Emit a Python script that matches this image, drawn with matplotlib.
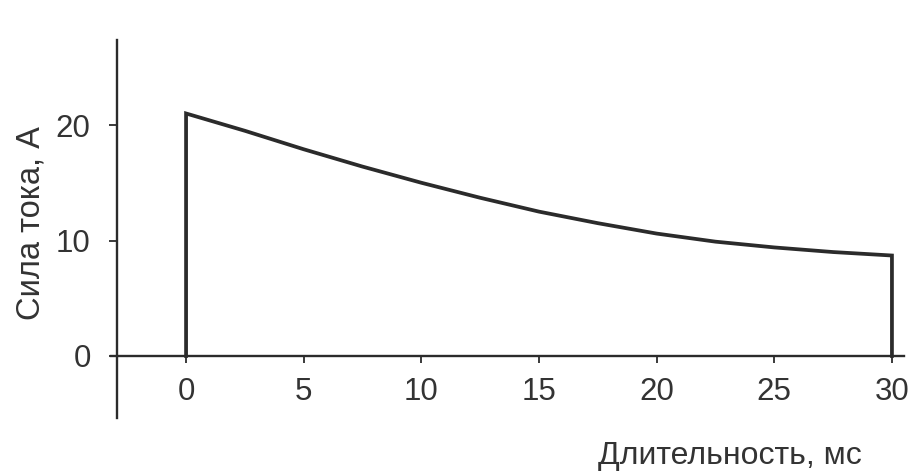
import matplotlib
matplotlib.use("Agg")
import matplotlib.pyplot as plt

# Data (time in ms, current in A)
time_ms = [0, 2.5, 5, 7.5, 10, 12.5, 15, 17.5, 20, 22.5, 25, 27.5, 30]
current_a = [21.0, 19.5, 17.9, 16.4, 15.0, 13.7, 12.5, 11.5, 10.6, 9.9, 9.4, 9.0, 8.7]
x_ticks = [0, 5, 10, 15, 20, 25, 30]
y_ticks = [0, 10, 20]
x_label = "Длительность, мс"
y_label = "Сила тока, А"

plt.rcParams['font.family'] = ['Liberation Sans', 'DejaVu Sans']
ink = '#2b2b2b'
txt = '#333333'

fig = plt.figure(figsize=(9.18, 4.73), dpi=100)
ax = fig.add_axes([0.1181, 0.1131, 0.8689, 0.8057])
ax.set_xlim(-3.3, 30.6)
ax.set_ylim(-5.5, 27.5)

# pulse shape: rise at t=0, decay, drop at t=30
xs = [time_ms[0]] + time_ms + [time_ms[-1]]
ys = [0] + current_a + [0]
ax.plot(xs, ys, color=ink, lw=2.7, solid_joinstyle='miter', clip_on=False)

for s in ['top', 'right']:
    ax.spines[s].set_visible(False)
ax.spines['left'].set_position(('data', -2.93))
ax.spines['left'].set_bounds(-5.4, 27.4)
ax.spines['bottom'].set_position(('data', 0))
ax.spines['bottom'].set_bounds(-3.2, 30.5)
for s in ['left', 'bottom']:
    ax.spines[s].set_color(ink)
    ax.spines[s].set_linewidth(1.7)

ax.set_xticks(x_ticks)
ax.set_yticks(y_ticks)
ax.tick_params(axis='x', direction='out', length=5, width=1.3, color=ink,
               labelsize=22.5, labelcolor=txt, pad=10)
ax.tick_params(axis='y', direction='out', length=6, width=1.3, color=ink,
               labelsize=22.5, labelcolor=txt, pad=13)

ax.set_xlabel(x_label, fontsize=23, color=txt, va='center')
ax.xaxis.set_label_coords(0.779, -0.095)
ax.set_ylabel(y_label, fontsize=23.5, color=txt, va='center')
ax.yaxis.set_label_coords(-0.097, 0.515)

fig.savefig('out.png', dpi=100, facecolor='white')
